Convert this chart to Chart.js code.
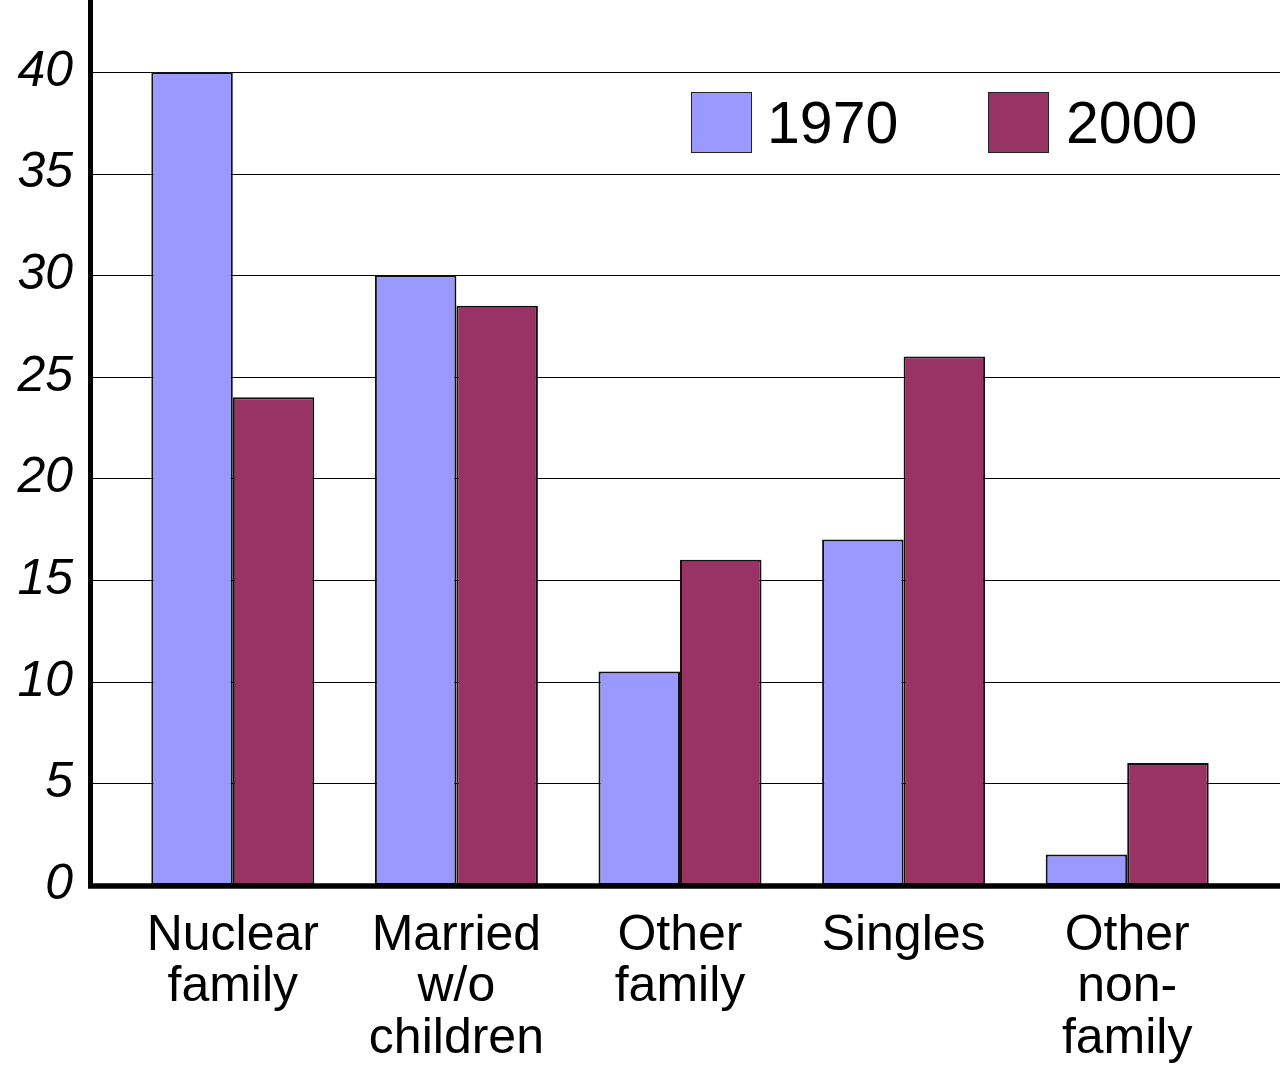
<!DOCTYPE html>
<html>
<head>
<meta charset="utf-8">
<script src="https://cdn.jsdelivr.net/npm/chart.js@4/dist/chart.umd.min.js"></script>
<style>
  html, body { margin: 0; padding: 0; background: #fff; }
  #wrap { position: relative; width: 1280px; height: 1077px; }
  .key { position: absolute; top: 92px; width: 61px; height: 61px; box-sizing: border-box; border: 1.5px solid #222; }
  .keytxt { position: absolute; top: 88px; font: 59px "Liberation Sans", Arial, sans-serif; line-height: 70px; color: #000; }
</style>
</head>
<body>
<div id="wrap">
  <canvas id="myChart" width="1280" height="1077"></canvas>
  <div class="key" style="left:691px;background:#9999ff"></div>
  <div class="keytxt" style="left:767px">1970</div>
  <div class="key" style="left:988px;background:#993366"></div>
  <div class="keytxt" style="left:1066px">2000</div>
</div>
<script>
// categorias y valores (porcentaje de hogares)
const categorias = [
    ["Nuclear", "family"],
    ["Married", "w/o", "children"],
    ["Other", "family"],
    ["Singles"],
    ["Other", "non-", "family"]
];
const valores1970 = [40, 30, 10.5, 17, 1.5];
const valores2000 = [24, 28.5, 16, 26, 6];
const ticksY = [0, 5, 10, 15, 20, 25, 30, 35, 40];

// lineas de grilla y ejes dibujados a todo lo ancho
const ejesPlugin = {
    id: "ejes",
    beforeDatasetsDraw(chart) {
        const c = chart.ctx;
        const y = chart.scales.y;
        c.save();
        c.strokeStyle = "#000";
        c.lineWidth = 1.2;
        ticksY.forEach(v => {
            const py = Math.round(y.getPixelForValue(v)) + 0.5;
            c.beginPath();
            c.moveTo(90, py);
            c.lineTo(1280, py);
            c.stroke();
        });
        c.restore();
    },
    afterDatasetsDraw(chart) {
        const c = chart.ctx;
        const y0 = chart.scales.y.getPixelForValue(0);
        c.save();
        c.strokeStyle = "#000";
        c.lineWidth = 5;
        c.beginPath();
        c.moveTo(90.5, 0);
        c.lineTo(90.5, y0 + 2);
        c.stroke();
        c.lineWidth = 5.5;
        c.beginPath();
        c.moveTo(88, y0 + 1);
        c.lineTo(1280, y0 + 1);
        c.stroke();
        c.restore();
    }
};

const ctx = document.getElementById("myChart").getContext("2d");
const myChart = new Chart(ctx, {
    type: "bar",
    data: {
        labels: categorias,
        datasets: [
            { label: "1970", data: valores1970, backgroundColor: "#9999ff", borderColor: "#111", borderWidth: 2, borderSkipped: false },
            { label: "2000", data: valores2000, backgroundColor: "#993366", borderColor: "#111", borderWidth: 2, borderSkipped: false }
        ]
    },
    options: {
        responsive: false,
        animation: false,
        layout: { autoPadding: false, padding: { left: 0, right: 41, top: 0, bottom: 0 } },
        datasets: { bar: { categoryPercentage: 0.729, barPercentage: 1 } },
        plugins: { legend: { display: false }, tooltip: { enabled: false } },
        scales: {
            x: {
                grid: { display: false, drawTicks: false },
                border: { display: false },
                ticks: {
                    color: "#000",
                    padding: 25,
                    maxRotation: 0,
                    autoSkip: false,
                    font: { family: "'Liberation Sans', Arial, sans-serif", size: 50, lineHeight: 1.03 }
                },
                afterFit(scale) {
                    scale.height = 192;
                    scale.paddingTop = 0; scale.paddingBottom = 0;
                    scale.paddingLeft = 0; scale.paddingRight = 0;
                }
            },
            y: {
                min: 0,
                max: 43.54,
                grid: { display: false, drawTicks: false },
                border: { display: false },
                afterBuildTicks(scale) {
                    scale.ticks = ticksY.map(v => ({ value: v }));
                },
                ticks: {
                    color: "#000",
                    padding: 48,
                    font: { family: "'Liberation Sans', Arial, sans-serif", size: 50, style: "italic" }
                },
                afterFit(scale) {
                    scale.width = 121;
                    scale.paddingTop = 0; scale.paddingBottom = 0;
                }
            }
        }
    },
    plugins: [ejesPlugin]
});
</script>
</body>
</html>
